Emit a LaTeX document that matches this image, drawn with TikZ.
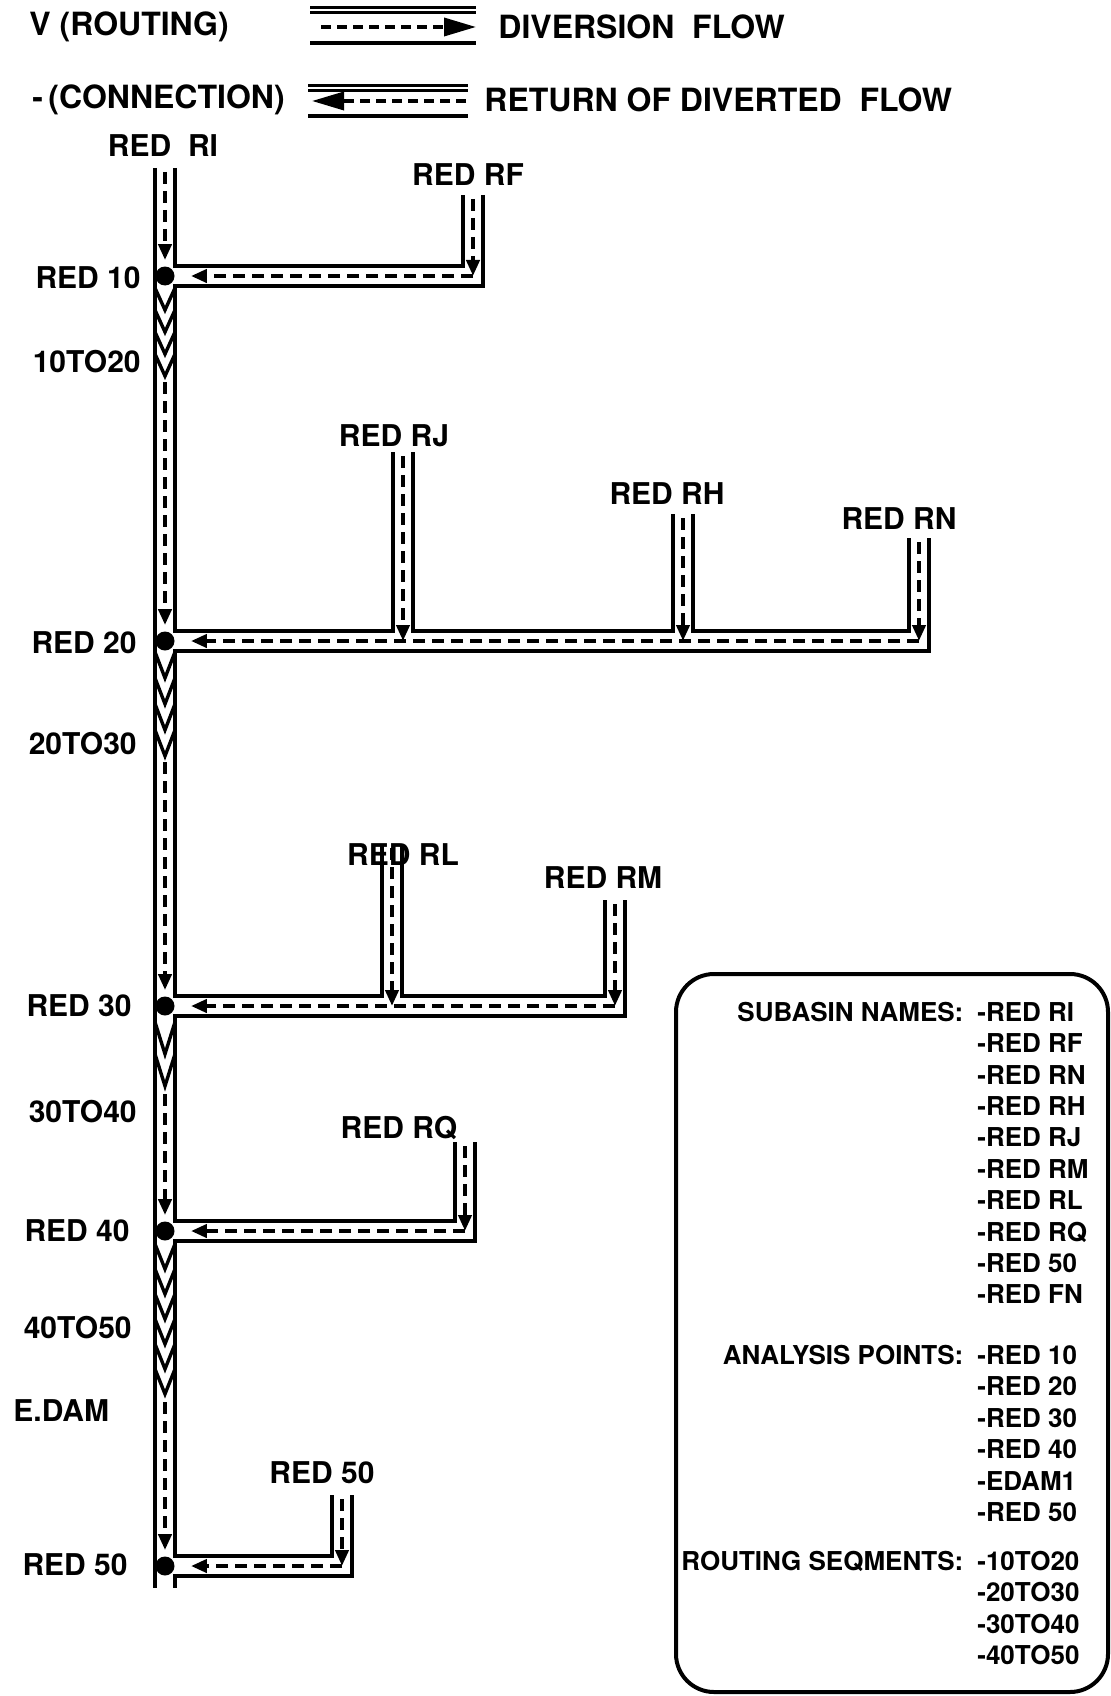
\documentclass[tikz,border=0pt]{standalone}
\usepackage{fontspec}
\setmainfont{TeX Gyre Heros}
\usepackage{tikz}
\usetikzlibrary{arrows.meta,positioning}

\begin{document}
\begin{tikzpicture}[
    x=0.5pt, y=-0.5pt,
    wall/.style={line width=2pt},
    flow/.style={line width=2pt, dash pattern=on 6pt off 3.5pt, -{Triangle[length=8pt, width=6.5pt]}},
    bigflow/.style={line width=1.8pt, dash pattern=on 5pt off 3pt, -{Triangle[length=16pt, width=9pt]}},
    vmark/.style={line width=1.7pt},
    dot/.style={circle, fill, inner sep=0pt, minimum size=9.5pt},
    lbl/.style={font=\fontsize{15}{18}\selectfont\bfseries, inner sep=0pt},
    head/.style={font=\fontsize{16}{19}\selectfont\bfseries, inner sep=0pt, anchor=west},
    keytext/.style={font=\fontsize{13}{15.7}\selectfont\bfseries, inner sep=0pt}
  ]
  \useasboundingbox (0,0) rectangle (1111,1696);

  % legend at the top
  \node[head] (hroute) at (29,27) {V (ROUTING)};
  \node[head] (hdiv) at (498,27) {DIVERSION~~FLOW};
  \node[head] (hconn) at (32,100) {-\,(CONNECTION)};
  \node[head] (hret) at (484,100) {RETURN OF DIVERTED~~FLOW};
  \draw[line width=1.4pt, double distance=0.8pt] (310,10) -- (476,10);
  \draw[wall] (310,43) -- (476,43);
  \draw[line width=1.4pt, double distance=0.8pt] (308,88) -- (468,88);
  \draw[wall] (308,116) -- (468,116);
  \coordinate (ka) at (321,27);
  \coordinate (kb) at (476,27);
  \coordinate (kc) at (466,101);
  \coordinate (kd) at (312,101);
  \draw[bigflow] (ka) -- (kb);
  \draw[bigflow] (kc) -- (kd);

  % channel walls
  \draw[wall] (155,168) -- (155,1588);
  \draw[wall] (175,168) -- (175,266) -- (463,266) -- (463,195);
  \draw[wall] (483,195) -- (483,286) -- (175,286) -- (175,631) -- (393,631) -- (393,452);
  \draw[wall] (413,452) -- (413,631) -- (673,631) -- (673,514);
  \draw[wall] (693,514) -- (693,631) -- (909,631) -- (909,538);
  \draw[wall] (929,538) -- (929,651) -- (175,651) -- (175,996) -- (382,996) -- (382,844);
  \draw[wall] (402,844) -- (402,996) -- (605,996) -- (605,900);
  \draw[wall] (625,900) -- (625,1016) -- (175,1016) -- (175,1221) -- (455,1221) -- (455,1142);
  \draw[wall] (475,1142) -- (475,1241) -- (175,1241) -- (175,1556) -- (332,1556) -- (332,1495);
  \draw[wall] (352,1495) -- (352,1576) -- (175,1576) -- (175,1588);

  % routing marks
  \draw[vmark] (155,288) -- (165,310) -- (175,288) (155,310) -- (165,332) -- (175,310)
    (155,332) -- (165,354) -- (175,332) (155,354) -- (165,376) -- (175,354);
  \draw[vmark] (155,652) -- (165,678) -- (175,652) (155,678) -- (165,704) -- (175,678)
    (155,704) -- (165,730) -- (175,704) (155,730) -- (165,756) -- (175,730);
  \draw[vmark] (155,1022) -- (165,1054) -- (175,1022) (155,1054) -- (165,1086) -- (175,1054);
  \draw[vmark] (155,1244) -- (165,1269) -- (175,1244) (155,1269) -- (165,1294) -- (175,1269)
    (155,1294) -- (165,1319) -- (175,1294) (155,1319) -- (165,1344) -- (175,1319)
    (155,1344) -- (165,1369) -- (175,1344) (155,1369) -- (165,1394) -- (175,1369);

  % junctions
  \node[dot] (d10) at (165,276) {};
  \node[dot] (d20) at (165,641) {};
  \node[dot] (d30) at (165,1006) {};
  \node[dot] (d40) at (165,1231) {};
  \node[dot] (d50) at (165,1566) {};

  \coordinate (top) at (165,172);
  \coordinate (v10) at (165,382);
  \coordinate (v20) at (165,762);
  \coordinate (v30) at (165,1094);
  \coordinate (v40) at (165,1402);
  \coordinate (rf) at (473,199);
  \coordinate (rj) at (403,456);
  \coordinate (rh) at (683,518);
  \coordinate (rn) at (919,542);
  \coordinate (rl) at (392,848);
  \coordinate (rm) at (615,904);
  \coordinate (rq) at (465,1146);
  \coordinate (r5) at (342,1499);

  % diversion flow
  \draw[flow, shorten >=3pt] (top) -- (d10);
  \draw[flow, shorten >=3pt] (v10) -- (d20);
  \draw[flow, shorten >=3pt] (v20) -- (d30);
  \draw[flow, shorten >=3pt] (v30) -- (d40);
  \draw[flow, shorten >=3pt] (v40) -- (d50);
  \draw[flow] (rf) -- (rf |- d10);
  \draw[flow] (rj) -- (rj |- d20);
  \draw[flow] (rh) -- (rh |- d20);
  \draw[flow] (rn) -- (rn |- d20);
  \draw[flow] (rl) -- (rl |- d30);
  \draw[flow] (rm) -- (rm |- d30);
  \draw[flow] (rq) -- (rq |- d40);
  \draw[flow] (r5) -- (r5 |- d50);

  % return of diverted flow
  \draw[flow, shorten >=8pt] (rf |- d10) -- (d10);
  \draw[flow, shorten >=8pt] (rn |- d20) -- (d20);
  \draw[flow, shorten >=8pt] (rm |- d30) -- (d30);
  \draw[flow, shorten >=8pt] (rq |- d40) -- (d40);
  \draw[flow, shorten >=8pt] (r5 |- d50) -- (d50);

  % subbasin labels
  \node[lbl] (nri) at (163,146) {RED~~RI};
  \node[lbl] (nrf) at (468,175) {RED RF};
  \node[lbl] (nrj) at (394,436) {RED RJ};
  \node[lbl] (nrh) at (667,494) {RED RH};
  \node[lbl] (nrn) at (899,519) {RED RN};
  \node[lbl] (nrl) at (403,855) {RED RL};
  \node[lbl] (nrm) at (603,878) {RED RM};
  \node[lbl] (nrq) at (399,1128) {RED RQ};
  \node[lbl] (nr5) at (322,1473) {RED 50};

  % analysis points and routing reaches
  \node[lbl, anchor=east] (n10) at (141,278) {RED 10};
  \node[lbl, anchor=east] (s1020) at (141,362) {10TO20};
  \node[lbl, anchor=east] (n20) at (137,643) {RED 20};
  \node[lbl, anchor=east] (s2030) at (137,744) {20TO30};
  \node[lbl, anchor=east] (n30) at (132,1006) {RED 30};
  \node[lbl, anchor=east] (s3040) at (137,1112) {30TO40};
  \node[lbl, anchor=east] (n40) at (130,1231) {RED 40};
  \node[lbl, anchor=east] (s4050) at (132,1328) {40TO50};
  \node[lbl, anchor=west] (edam) at (13,1411) {E.DAM};
  \node[lbl, anchor=east] (n50) at (128,1565) {RED 50};

  % name key
  \draw[wall, rounded corners=19pt] (676,974) rectangle (1108,1692);
  \node[keytext, anchor=north west] (key) at (681,999) {%
    \begin{tabular}{@{}r@{\hspace{7pt}}l@{}}
      SUBASIN NAMES: & -RED RI\\
       & -RED RF\\
       & -RED RN\\
       & -RED RH\\
       & -RED RJ\\
       & -RED RM\\
       & -RED RL\\
       & -RED RQ\\
       & -RED 50\\
       & -RED FN\\[14.6pt]
      ANALYSIS POINTS: & -RED 10\\
       & -RED 20\\
       & -RED 30\\
       & -RED 40\\
       & -EDAM1\\
       & -RED 50\\[8.7pt]
      ROUTING SEQMENTS: & -10TO20\\
       & -20TO30\\
       & -30TO40\\
       & -40TO50
    \end{tabular}};
\end{tikzpicture}
\end{document}
